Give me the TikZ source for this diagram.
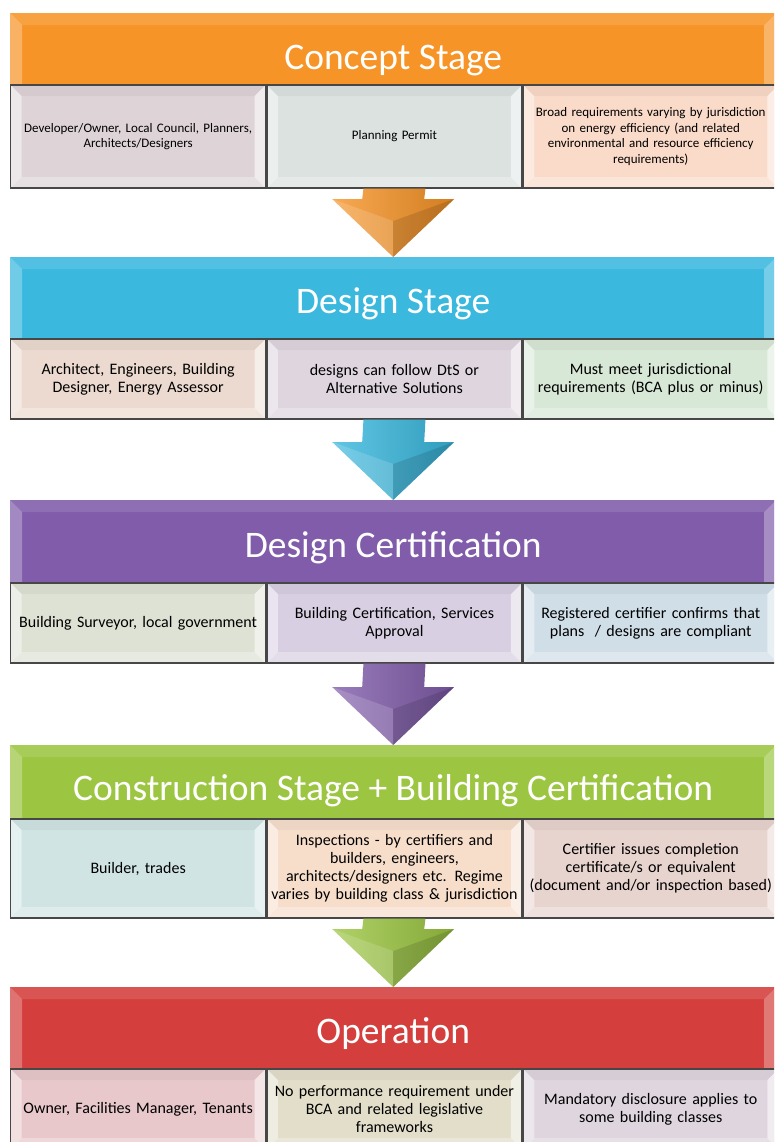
\documentclass[tikz,border=0pt]{standalone}
\usepackage{fontspec}
\setmainfont{Carlito}
\usepackage{tikz}
\usetikzlibrary{positioning,calc}
\definecolor{conceptorange}{RGB}{247,148,39}
\definecolor{designcyan}{RGB}{58,184,222}
\definecolor{certpurple}{RGB}{128,92,170}
\definecolor{buildgreen}{RGB}{156,198,66}
\definecolor{operred}{RGB}{212,62,60}
\definecolor{cellmauve}{RGB}{222,212,216}
\definecolor{cellsage}{RGB}{219,226,224}
\definecolor{cellpeach}{RGB}{250,218,200}
\definecolor{celltan}{RGB}{236,218,208}
\definecolor{celllilac}{RGB}{222,213,222}
\definecolor{cellmint}{RGB}{216,232,214}
\definecolor{cellolive}{RGB}{222,226,212}
\definecolor{cellviolet}{RGB}{216,207,226}
\definecolor{cellsky}{RGB}{208,222,232}
\definecolor{cellaqua}{RGB}{208,228,228}
\definecolor{cellapricot}{RGB}{246,222,202}
\definecolor{cellrosetan}{RGB}{232,212,206}
\definecolor{cellpink}{RGB}{232,200,202}
\definecolor{cellbeige}{RGB}{226,222,202}
\newcommand{\stagearrow}[3]{%
  \shade[left color=#3!80!white,right color=#3!85!black]
    ($(#1)+(-31pt,0pt)$) -- ($(#1)+(31pt,0pt)$) -- ($(#2)+(31pt,58pt)$)
    -- ($(#2)+(61pt,58pt)$) -- (#2) -- ($(#2)+(-61pt,58pt)$)
    -- ($(#2)+(-31pt,58pt)$) -- cycle;
  \fill[black,opacity=.12] (#2) -- ($(#2)+(61pt,58pt)$) -- ($(#2)+(0pt,36pt)$) -- cycle;
  \fill[white,opacity=.15] (#2) -- ($(#2)+(-61pt,58pt)$) -- ($(#2)+(0pt,36pt)$) -- cycle;
}
\tikzset{
  bevel/.style={path picture={
    \coordinate (bl) at (path picture bounding box.south west);
    \coordinate (tr) at (path picture bounding box.north east);
    \coordinate (tl) at (bl|-tr);
    \coordinate (br) at (tr|-bl);
    \fill[white,opacity=.45] (bl) -- (tl) -- ($(tl)+(#1,-#1)$) -- ($(bl)+(#1,#1)$) -- cycle;
    \fill[white,opacity=.55] (br) -- (tr) -- ($(tr)+(-#1,-#1)$) -- ($(br)+(-#1,#1)$) -- cycle;
    \fill[white,opacity=.3] (bl) -- ($(bl)+(#1,#1)$) -- ($(br)+(-#1,#1)$) -- (br) -- cycle;
    \fill[black,opacity=.04] (tl) -- ($(tl)+(#1,-#1)$) -- ($(tr)+(-#1,-#1)$) -- (tr) -- cycle;
  }},
  bevel/.default=11pt,
  barbevel/.style={path picture={
    \coordinate (bl) at (path picture bounding box.south west);
    \coordinate (tr) at (path picture bounding box.north east);
    \coordinate (tl) at (bl|-tr);
    \coordinate (br) at (tr|-bl);
    \fill[white,opacity=.28] (bl) -- (tl) -- ($(tl)+(12pt,-12pt)$) -- ($(bl)+(12pt,0pt)$) -- cycle;
    \fill[white,opacity=.3] (br) -- (tr) -- ($(tr)+(-12pt,-12pt)$) -- ($(br)+(-12pt,0pt)$) -- cycle;
    \fill[white,opacity=.12] (tl) -- ($(tl)+(12pt,-12pt)$) -- ($(tr)+(-12pt,-12pt)$) -- (tr) -- cycle;
  }},
  stagebar/.style={
    fill=#1,barbevel,anchor=north west,minimum width=766pt,inner sep=0pt,
    text=white,font=\fontsize{37.5}{40}\selectfont,text height=35pt,text depth=0pt
  },
  cellbox/.style={
    draw=black!72,line width=1.3pt,fill=#1,bevel,minimum width=255pt,
    text width=251pt,inner xsep=2pt,inner ysep=0pt,align=center,
    font=\fontsize{16}{18}\selectfont
  },
  smallcell/.style={font=\fontsize{13}{15.5}\selectfont}
}
\begin{document}
\begin{tikzpicture}[x=1pt,y=-1pt]
  \clip (0,0) rectangle (774,1142);
  \fill[white] (0,0) rectangle (774,1142);
  \node[stagebar=conceptorange,minimum height=71pt,text height=42pt] (h1) at (10,13) {Concept Stage};
  \node[cellbox=cellmauve,smallcell,minimum height=103pt,below right=0pt and 0pt of h1.south west] (c11) {Developer/Owner, Local Council, Planners,\\Architects/Designers};
  \node[cellbox=cellsage,smallcell,minimum height=103pt,right=0pt of c11] (c12) {Planning Permit};
  \node[cellbox=cellpeach,smallcell,minimum height=103pt,right=0pt of c12] (c13) {Broad requirements varying by jurisdiction\\on energy efficiency (and related\\environmental and resource efficiency\\requirements)};
  \node[stagebar=designcyan,minimum height=81pt,text height=32pt] (h2) at (10,257) {Design Stage};
  \node[cellbox=celltan,minimum height=80pt,below right=0pt and 0pt of h2.south west] (c21) {Architect, Engineers, Building\\Designer, Energy Assessor};
  \node[cellbox=celllilac,minimum height=80pt,right=0pt of c21] (c22) {designs can follow DtS or\\Alternative Solutions};
  \node[cellbox=cellmint,minimum height=80pt,right=0pt of c22] (c23) {Must meet jurisdictional\\requirements (BCA plus or minus)};
  \node[stagebar=certpurple,minimum height=82pt,text height=32pt] (h3) at (10,500) {Design Certification};
  \node[cellbox=cellolive,minimum height=80pt,below right=0pt and 0pt of h3.south west] (c31) {Building Surveyor, local government};
  \node[cellbox=cellviolet,minimum height=80pt,right=0pt of c31] (c32) {Building Certification, Services\\Approval};
  \node[cellbox=cellsky,minimum height=80pt,right=0pt of c32] (c33) {Registered certifier confirms that\\plans~ / designs are compliant};
  \node[stagebar=buildgreen,minimum height=73pt,text height=38pt] (h4) at (10,745) {Construction Stage + Building Certification};
  \node[cellbox=cellaqua,minimum height=99pt,below right=0pt and 0pt of h4.south west] (c41) {Builder, trades};
  \node[cellbox=cellapricot,minimum height=99pt,right=0pt of c41] (c42) {Inspections - by certifiers and\\builders, engineers,\\architects/designers etc. Regime\\varies by building class \& jurisdiction};
  \node[cellbox=cellrosetan,minimum height=99pt,right=0pt of c42] (c43) {Certifier issues completion\\certificate/s or equivalent\\(document and/or inspection based)};
  \node[stagebar=operred,minimum height=81pt,text height=32pt] (h5) at (10,987) {Operation};
  \node[cellbox=cellpink,minimum height=80pt,below right=0pt and 0pt of h5.south west] (c51) {Owner, Facilities Manager, Tenants};
  \node[cellbox=cellbeige,minimum height=80pt,right=0pt of c51] (c52) {No performance requirement under\\BCA and related legislative\\frameworks};
  \node[cellbox=celllilac,minimum height=80pt,right=0pt of c52] (c53) {Mandatory disclosure applies to\\some building classes};
  \stagearrow{c12.south}{h2.north}{conceptorange}
  \stagearrow{c22.south}{h3.north}{designcyan}
  \stagearrow{c32.south}{h4.north}{certpurple}
  \stagearrow{c42.south}{h5.north}{buildgreen}
\end{tikzpicture}
\end{document}
